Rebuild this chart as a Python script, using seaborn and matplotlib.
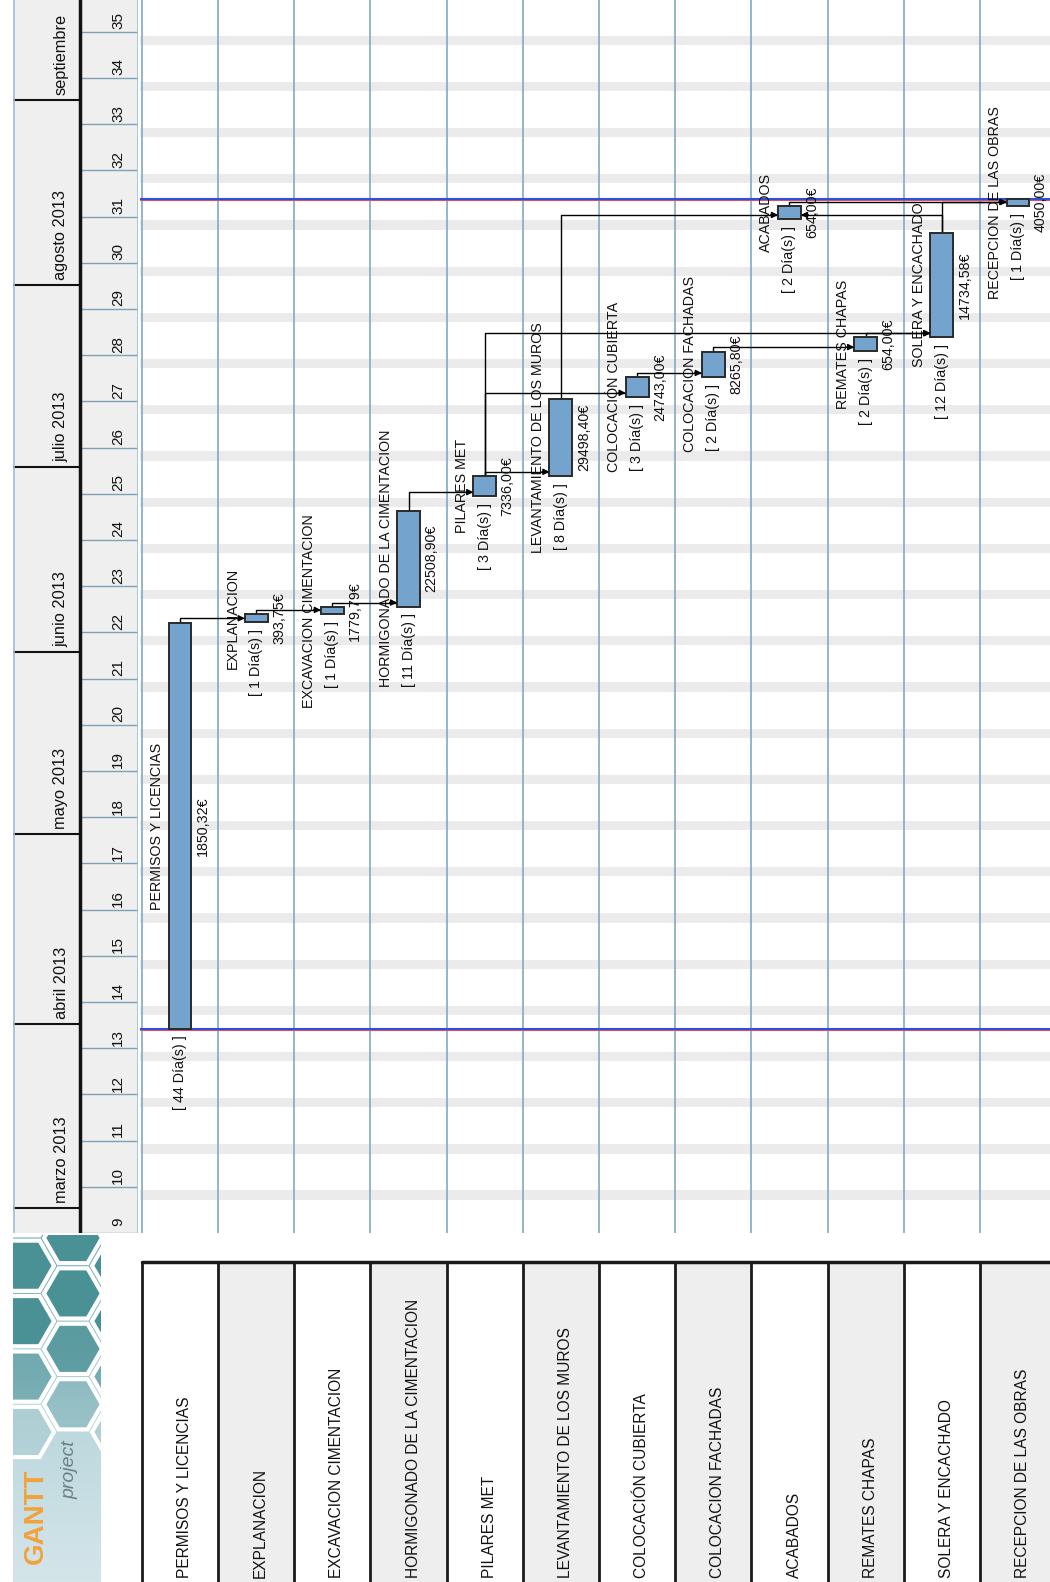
import numpy as np
import pandas as pd
import matplotlib
matplotlib.use("Agg")
import matplotlib.pyplot as plt
import seaborn as sns
from matplotlib.patches import RegularPolygon


# tasks of the schedule, one column each (chart is rotated: time runs upward)
tasks = ["PERMISOS Y LICENCIAS", "EXPLANACION", "EXCAVACION CIMENTACION",
         "HORMIGONADO DE LA CIMENTACION", "PILARES MET", "LEVANTAMIENTO DE LOS MUROS",
         "COLOCACIÓN CUBIERTA", "COLOCACION FACHADAS", "ACABADOS", "REMATES CHAPAS",
         "SOLERA Y ENCACHADO", "RECEPCION DE LAS OBRAS"]
# start / end in week-of-year units (13.42 = thursday of week 13)
starts = [13.42, 22.22, 22.40, 22.56, 24.95, 25.39, 27.10, 27.53, 30.95, 28.09, 28.39, 31.23]
ends = [22.20, 22.40, 22.54, 24.63, 25.39, 27.05, 27.53, 28.07, 31.23, 28.39, 30.65, 31.38]
days = [44, 1, 1, 11, 3, 8, 3, 2, 2, 2, 12, 1]
costs = ["1850,32€", "393,75€", "1779,79€", "22508,90€", "7336,00€", "29498,40€",
         "24743,00€", "8265,80€", "654,00€", "654,00€", "14734,58€", "4050,00€"]
# finish-to-start links (predecessor, successor)
links = [(0, 1), (1, 2), (2, 3), (3, 4), (4, 5), (4, 6), (4, 10), (6, 7), (7, 9),
         (9, 10), (5, 8), (10, 8), (8, 11), (10, 11)]

weeks = list(range(9, 36))
months = ["marzo 2013", "abril 2013", "mayo 2013", "junio 2013", "julio 2013",
          "agosto 2013", "septiembre"]
month_starts = [9.54, 13.52, 17.63, 21.58, 25.58, 29.52, 33.52]

W, H = 1050, 1582
XLIM = (-0.525, 11.42)
YLIM = (9.0, 35.69)
BAR_W = 0.3
FS = 10.3

sns.set_style("white")
plt.rcParams["font.family"] = ["Liberation Sans", "DejaVu Sans"]
plt.rcParams["text.color"] = "#111111"


def box(x0, y0, x1, y1):
    return [x0 / W, 1 - y1 / H, (x1 - x0) / W, (y1 - y0) / H]


fig = plt.figure(figsize=(W / 100, H / 100), dpi=100)
ax = fig.add_axes(box(140, 0, 1050, 1233))
hdr = fig.add_axes(box(13, 0, 138, 1233))
tbl = fig.add_axes(box(140, 1262, 1050, 1582))
logo = fig.add_axes(box(13, 1235, 101, 1582))

# ---- chart area ----
for w in weeks:
    ax.axhspan(w + 0.72, w + 0.92, color="#ebebeb", lw=0, zorder=0)
for i in range(-1, len(tasks)):
    ax.axvline(i + 0.5, color="#8ab0c8", lw=1.3, zorder=1)

df = pd.DataFrame({"task": tasks, "dur": np.subtract(ends, starts), "start": starts})
sns.barplot(data=df, x="task", y="dur", bottom=df["start"].to_numpy(), color="#74a3cd",
            saturation=1, width=BAR_W, edgecolor="#2a2a2a", linewidth=1.4, ax=ax, zorder=4)

half = BAR_W / 2
for p, s in links:
    lvl = starts[s] + 0.087
    d = 1 if s > p else -1
    edge = s - d * half
    ax.plot([p, p, edge], [ends[p], lvl, lvl], color="k", lw=1, zorder=3)
    ax.annotate("", xy=(edge, lvl), xytext=(edge - d * 0.1, lvl), zorder=5,
                arrowprops=dict(arrowstyle="-|>", color="k", lw=1, mutation_scale=9,
                                shrinkA=0, shrinkB=0))

for y0 in (min(starts), max(ends)):
    ax.axhline(y0 - 0.02, color="#e0506a", lw=0.8, zorder=2)
    ax.axhline(y0, color="#2f4fd8", lw=1.5, zorder=2)

for i in range(len(tasks)):
    mid = (starts[i] + ends[i]) / 2
    ax.text(i - half - 0.06, mid, tasks[i], rotation=90, ha="right", va="center",
            fontsize=FS, clip_on=True, zorder=6)
    ax.text(i + half + 0.06, mid, costs[i], rotation=90, ha="left", va="center",
            fontsize=FS, clip_on=True, zorder=6)
    ax.text(i, starts[i] - 0.15, f"[ {days[i]} Día(s) ]", rotation=90, ha="center",
            va="top", fontsize=FS, clip_on=True, zorder=6)

ax.set_xlim(XLIM)
ax.set_ylim(YLIM)
ax.set_axis_off()

# ---- timeline header ----
split = 0.536
hdr.set_xlim(0, 1)
hdr.set_ylim(YLIM)
hdr.axvspan(0, 1, color="#efefef", lw=0, zorder=0)
for w in weeks:
    hdr.plot([split, 1], [w, w], color="#7f9fb3", lw=1)
    hdr.text(0.84, w + 0.24, str(w), rotation=90, ha="center", va="center",
             fontsize=11, clip_on=True)
for m, ms in zip(months, month_starts):
    hdr.plot([0, split], [ms, ms], color="#111111", lw=1.5)
    hdr.text(0.384, ms + 0.11, m, rotation=90, ha="center", va="bottom",
             fontsize=11.8, clip_on=True)
hdr.axvline(split, color="#111111", lw=2.5)
hdr.axvline(0.004, color="#9cc0d6", lw=1.2)
hdr.axvline(0.996, color="#9cc0d6", lw=1.2)
hdr.set_axis_off()

# ---- task name table ----
tbl.set_xlim(XLIM)
tbl.set_ylim(0, 1)
for i, name in enumerate(tasks):
    tbl.axvspan(i - 0.5, i + 0.5, color="#eeeeee" if i % 2 else "white", lw=0, zorder=0)
    tbl.text(i + 0.06, 0.012, name, rotation=90, ha="center", va="bottom", fontsize=11.2)
for i in range(-1, len(tasks)):
    tbl.axvline(i + 0.5, color="#1a1a1a", lw=2)
tbl.plot([-0.5, XLIM[1]], [1, 1], color="#1a1a1a", lw=2.5, clip_on=False)
tbl.set_axis_off()

# ---- logo ----
logo.set_xlim(0, 88)
logo.set_ylim(0, 347)
grad = np.linspace(0, 1, 200)[:, None]
logo.imshow(grad, extent=(0, 88, 0, 347), origin="lower", aspect="auto",
            cmap=matplotlib.colors.LinearSegmentedColormap.from_list(
                "lg", ["#d4e5ea", "#b9d6dc", "#6aa6aa"]), zorder=0)
r = 32
for col in range(-1, 4):
    for row in range(-1, 8):
        cx = col * 1.5 * r + 12
        cy = row * np.sqrt(3) * r + (col % 2) * np.sqrt(3) / 2 * r + 150
        if cy < 140:
            continue
        a = min(1, max(0.1, (cy - 140) / 120))
        logo.add_patch(RegularPolygon((cx, cy), 6, radius=r - 3, orientation=np.pi / 6,
                                      facecolor=(0.29, 0.57, 0.59, a), edgecolor="white",
                                      lw=3, zorder=1))
logo.text(23, 66, "GANTT", rotation=90, ha="center", va="center", fontsize=20,
          fontweight="bold", color="#f2a23a", zorder=3)
logo.text(57, 112, "project", rotation=90, ha="center", va="center", fontsize=14,
          style="italic", color="#6d7f84", zorder=3)
logo.set_axis_off()

fig.savefig("out.png", dpi=100, facecolor="white")
